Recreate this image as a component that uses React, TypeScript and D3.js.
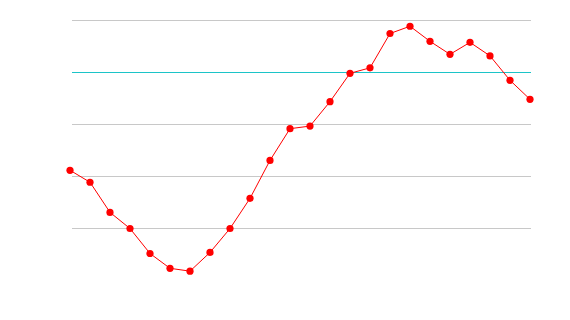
import React from "react";
import * as d3 from "d3";

const values: number[] = [21.1, 18.8, 13.0, 9.9, 5.1, 2.25, 1.7, 5.3, 9.9, 15.7, 23.0, 29.1, 29.6, 34.3, 39.75, 40.8, 47.4, 48.8, 45.9, 43.4, 45.7, 43.1, 38.4, 34.75];
const gridValues: number[] = [10, 20, 30, 50];
const targetValue = 40;

const W = 570;
const H = 320;

export default function App() {
  const x = d3.scaleLinear().domain([0, values.length - 1]).range([70, 530]);
  const y = d3.scaleLinear().domain([0, 50]).range([280, 20]);
  const line = d3
    .line<number>()
    .x((_, i) => x(i))
    .y((d) => y(d));
  return (
    <svg
      width={W}
      height={H}
      style={{ position: "absolute", left: 0, top: 0, background: "#fff" }}
    >
      {gridValues.map((g) => (
        <line
          key={g}
          x1={72}
          x2={531}
          y1={Math.round(y(g)) + 0.5}
          y2={Math.round(y(g)) + 0.5}
          stroke="#c8c8c8"
          strokeWidth={1}
        />
      ))}
      <line
        x1={72}
        x2={531}
        y1={Math.round(y(targetValue)) + 0.5}
        y2={Math.round(y(targetValue)) + 0.5}
        stroke="#1cc4c8"
        strokeWidth={1}
      />
      <path d={line(values) || ""} fill="none" stroke="#ff0000" strokeWidth={1} />
      {values.map((v, i) => (
        <circle key={i} cx={x(i)} cy={y(v)} r={3.6} fill="#ff0000" />
      ))}
    </svg>
  );
}
